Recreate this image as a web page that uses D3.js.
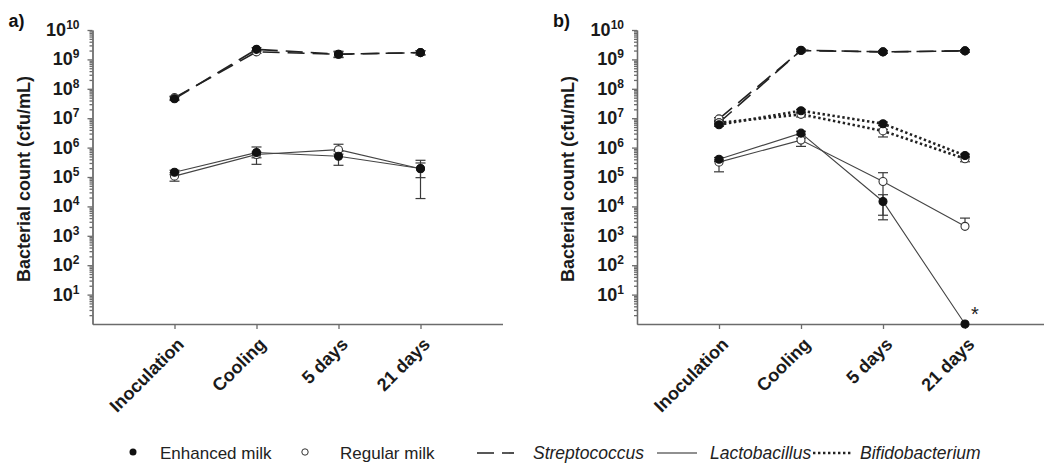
<!DOCTYPE html>
<html>
<head>
<meta charset="utf-8">
<script src="https://cdn.jsdelivr.net/npm/d3@7"></script>
<style>
  html, body { margin: 0; padding: 0; background: #fff; }
  svg { display: block; font-family: "Liberation Sans", Arial, sans-serif; }
</style>
</head>
<body>
<svg id="chart" width="1044" height="463"></svg>
<script>
// Sampling points
const categories = ["Inoculation", "Cooling", "5 days", "21 days"];

// Decade ticks on the count axis (exponents of 10)
const yTickExponents = [1, 2, 3, 4, 5, 6, 7, 8, 9, 10];

// Panel a) — counts (cfu/mL) and error-bar ends
const aStrepEnh    = [4.6e7, 2.2e9, 1.5e9, 1.7e9];
const aStrepEnhLo  = [4.0e7, 1.9e9, 1.15e9, 1.4e9];
const aStrepEnhHi  = [5.3e7, 2.5e9, 1.9e9, 2.0e9];
const aStrepReg    = [5.0e7, 1.8e9, 1.5e9, 1.7e9];
const aStrepRegLo  = [4.4e7, 1.6e9, 1.2e9, 1.45e9];
const aStrepRegHi  = [5.6e7, 2.0e9, 1.8e9, 1.95e9];
const aLactoEnh    = [1.45e5, 6.8e5, 5.1e5, 1.95e5];
const aLactoEnhLo  = [1.2e5, 2.7e5, 2.5e5, 9.5e4];
const aLactoEnhHi  = [1.7e5, 1.05e6, 7.5e5, 3.0e5];
const aLactoReg    = [1.07e5, 5.8e5, 8.5e5, 1.9e5];
const aLactoRegLo  = [7.2e4, 4.5e5, 6.0e5, 1.85e4];
const aLactoRegHi  = [1.4e5, 7.0e5, 1.3e6, 3.7e5];

// Panel b) — counts (cfu/mL) and error-bar ends
const bStrepEnh    = [7.0e6, 2.05e9, 1.8e9, 1.95e9];
const bStrepEnhLo  = [6.2e6, 1.85e9, 1.6e9, 1.75e9];
const bStrepEnhHi  = [7.8e6, 2.25e9, 2.0e9, 2.15e9];
const bStrepReg    = [9.5e6, 2.0e9, 1.8e9, 1.95e9];
const bStrepRegLo  = [8.5e6, 1.8e9, 1.6e9, 1.75e9];
const bStrepRegHi  = [1.05e7, 2.2e9, 2.0e9, 2.15e9];
const bBifidoEnh   = [6.0e6, 1.8e7, 6.5e6, 5.4e5];
const bBifidoEnhLo = [5.3e6, 1.6e7, 5.6e6, 4.8e5];
const bBifidoEnhHi = [6.7e6, 2.0e7, 7.4e6, 6.0e5];
const bBifidoReg   = [7.0e6, 1.35e7, 3.7e6, 4.2e5];
const bBifidoRegLo = [5.5e6, 1.1e7, 2.3e6, 3.3e5];
const bBifidoRegHi = [8.0e6, 1.5e7, 4.2e6, 4.8e5];
const bLactoEnh    = [4.0e5, 3.1e6, 1.47e4, 1];
const bLactoEnhLo  = [3.4e5, 2.7e6, 3.5e3, null];
const bLactoEnhHi  = [4.6e5, 3.6e6, 2.5e4, null];
const bLactoReg    = [3.2e5, 1.8e6, 7.0e4, 2.1e3];
const bLactoRegLo  = [1.5e5, 1.1e6, 5.0e3, null];
const bLactoRegHi  = [3.8e5, 2.1e6, 1.4e5, 4.0e3];

// Legend entries
const legendMilk = ["Enhanced milk", "Regular milk"];
const legendGenus = ["Streptococcus", "Lactobacillus", "Bifidobacterium"];

const LINE = "#3a3a3a";
const AXIS = "#6b6b6b";
const genusStyle = {
  Streptococcus:   { width: 1.6, dash: "17,8" },
  Lactobacillus:   { width: 1.1, dash: null },
  Bifidobacterium: { width: 2.6, dash: "2.4,2.6" }
};

function series(genus, milk, values, lo, hi) {
  return { genus, milk, values, lo, hi };
}

const panels = [
  {
    label: "a)", x0: 92.5,
    series: [
      series("Streptococcus", "Regular milk", aStrepReg, aStrepRegLo, aStrepRegHi),
      series("Streptococcus", "Enhanced milk", aStrepEnh, aStrepEnhLo, aStrepEnhHi),
      series("Lactobacillus", "Regular milk", aLactoReg, aLactoRegLo, aLactoRegHi),
      series("Lactobacillus", "Enhanced milk", aLactoEnh, aLactoEnhLo, aLactoEnhHi)
    ]
  },
  {
    label: "b)", x0: 637,
    series: [
      series("Streptococcus", "Regular milk", bStrepReg, bStrepRegLo, bStrepRegHi),
      series("Streptococcus", "Enhanced milk", bStrepEnh, bStrepEnhLo, bStrepEnhHi),
      series("Bifidobacterium", "Regular milk", bBifidoReg, bBifidoRegLo, bBifidoRegHi),
      series("Bifidobacterium", "Enhanced milk", bBifidoEnh, bBifidoEnhLo, bBifidoEnhHi),
      series("Lactobacillus", "Regular milk", bLactoReg, bLactoRegLo, bLactoRegHi),
      series("Lactobacillus", "Enhanced milk", bLactoEnh, bLactoEnhLo, bLactoEnhHi)
    ],
    note: { category: "21 days", text: "*" }
  }
];

const svg = d3.select("#chart");
const yTop = 30, yBottom = 324;
const plotWidth = 410; // five category slots

panels.forEach(p => {
  const g = svg.append("g");
  const x = d3.scaleLinear().domain([0, categories.length + 1]).range([p.x0, p.x0 + plotWidth]);
  const xc = c => x(categories.indexOf(c) + 1);
  const y = d3.scaleLog().domain([1, 1e10]).range([yBottom, yTop]);

  // panel letter
  g.append("text").attr("x", p.x0 - 84).attr("y", 27)
    .attr("font-size", 18).attr("font-weight", "bold").attr("fill", "#111")
    .text(p.label);

  // y axis: line, decade ticks and minor ticks
  const minor = [];
  for (let k = 0; k < 10; k++) for (let m = 2; m <= 9; m++) minor.push(m * Math.pow(10, k));
  const yAxisMinor = d3.axisLeft(y).tickValues(minor).tickSize(3).tickFormat("").tickSizeOuter(0);
  const yAxisMajor = d3.axisLeft(y).tickValues(yTickExponents.map(e => Math.pow(10, e)))
    .tickSize(5).tickFormat("").tickSizeOuter(0);
  [yAxisMinor, yAxisMajor].forEach(ax => {
    const a = g.append("g").attr("transform", `translate(${p.x0},0)`).call(ax);
    a.selectAll("path, line").attr("stroke", AXIS).attr("stroke-width", 1.3);
  });

  // decade labels as 10^k
  yTickExponents.forEach(e => {
    const t = g.append("text")
      .attr("x", p.x0 - 13).attr("y", y(Math.pow(10, e)) + 6)
      .attr("text-anchor", "end").attr("font-weight", "bold").attr("fill", "#1a1a1a")
      .attr("font-size", 18);
    t.append("tspan").text("10");
    t.append("tspan").attr("font-size", 12).attr("dy", -7).text(String(e));
  });

  // y title
  g.append("text")
    .attr("transform", `translate(${p.x0 - 69},${(yTop + yBottom) / 2 + 2}) rotate(-90)`)
    .attr("text-anchor", "middle").attr("dy", "0.35em")
    .attr("font-size", 18).attr("font-weight", "bold").attr("fill", "#1a1a1a")
    .text("Bacterial count (cfu/mL)");

  // x axis
  const xAxis = d3.axisBottom(x).tickValues(categories.map((c, i) => i + 1))
    .tickSize(5).tickFormat("").tickSizeOuter(0);
  const xa = g.append("g").attr("transform", `translate(0,${yBottom})`).call(xAxis);
  xa.selectAll("path, line").attr("stroke", AXIS).attr("stroke-width", 1.3);

  categories.forEach(c => {
    g.append("text")
      .attr("transform", `translate(${xc(c) + 6},${yBottom + 17}) rotate(-45)`)
      .attr("text-anchor", "end").attr("dy", "0.35em")
      .attr("font-size", 18).attr("font-weight", "bold").attr("fill", "#1a1a1a")
      .text(c);
  });

  const line = d3.line().x((d, i) => xc(categories[i])).y(d => y(d));

  // connecting lines
  p.series.forEach(s => {
    const st = genusStyle[s.genus];
    g.append("path").datum(s.values)
      .attr("d", line).attr("fill", "none")
      .attr("stroke", s.genus === "Lactobacillus" ? "#444" : "#222")
      .attr("stroke-width", st.width)
      .attr("stroke-dasharray", st.dash);
  });

  // error bars with caps
  p.series.forEach(s => {
    categories.forEach((c, i) => {
      const cx = xc(c);
      const v = s.values[i];
      [s.lo[i], s.hi[i]].forEach(end => {
        if (end == null) return;
        g.append("line").attr("x1", cx).attr("x2", cx)
          .attr("y1", y(v)).attr("y2", y(end))
          .attr("stroke", LINE).attr("stroke-width", 1.2);
        g.append("line").attr("x1", cx - 5).attr("x2", cx + 5)
          .attr("y1", y(end)).attr("y2", y(end))
          .attr("stroke", LINE).attr("stroke-width", 1.2);
      });
    });
  });

  // markers
  p.series.forEach(s => {
    const filled = s.milk === "Enhanced milk";
    g.selectAll(null).data(s.values).enter().append("circle")
      .attr("cx", (d, i) => xc(categories[i]))
      .attr("cy", d => y(d))
      .attr("r", 4)
      .attr("fill", filled ? "#111" : "#fff")
      .attr("stroke", filled ? "#111" : "#333")
      .attr("stroke-width", 1.1);
  });

  if (p.note) {
    g.append("text")
      .attr("x", xc(p.note.category) + 6).attr("y", yBottom - 3)
      .attr("font-size", 20).attr("fill", "#222")
      .text(p.note.text);
  }
});

// legend
const ly = 453;
const leg = svg.append("g").attr("font-size", 17).attr("fill", "#222");
leg.append("circle").attr("cx", 133).attr("cy", ly - 1).attr("r", 3.5).attr("fill", "#111");
leg.append("text").attr("x", 160).attr("y", ly).attr("dy", "0.35em").text(legendMilk[0]);
leg.append("circle").attr("cx", 305).attr("cy", ly - 1).attr("r", 3.2)
  .attr("fill", "#fff").attr("stroke", "#333").attr("stroke-width", 1);
leg.append("text").attr("x", 340).attr("y", ly).attr("dy", "0.35em").text(legendMilk[1]);

const legendGenusPos = [
  { x1: 477, x2: 514, tx: 533 },
  { x1: 657, x2: 697, tx: 710 },
  { x1: 813, x2: 851, tx: 860 }
];
legendGenus.forEach((gname, i) => {
  const pos = legendGenusPos[i];
  const st = genusStyle[gname];
  leg.append("line").attr("x1", pos.x1).attr("x2", pos.x2)
    .attr("y1", ly).attr("y2", ly)
    .attr("stroke", "#222").attr("stroke-width", st.width)
    .attr("stroke-dasharray", st.dash);
  leg.append("text").attr("x", pos.tx).attr("y", ly).attr("dy", "0.35em")
    .attr("font-style", "italic").attr("font-size", 17.5).text(gname);
});
</script>
</body>
</html>
